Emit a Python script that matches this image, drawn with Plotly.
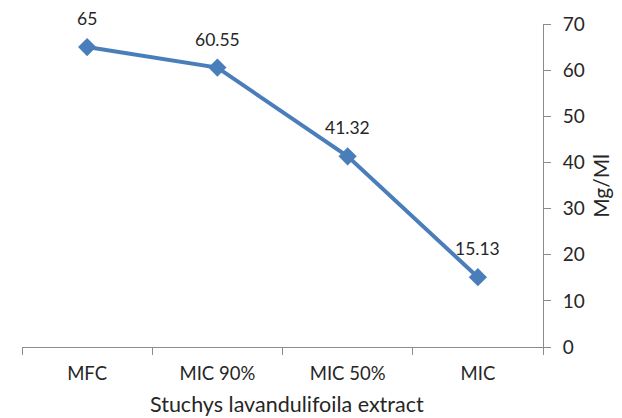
import plotly.graph_objects as go

categories = ["MFC", "MIC 90%", "MIC 50%", "MIC"]
values = [65, 60.55, 41.32, 15.13]
labels = ["65", "60.55", "41.32", "15.13"]
x_title = "Stuchys lavandulifoila extract"
y_title = "Mg/Ml"

font_family = "Lato, 'Open Sans', sans-serif"
text_color = "#262626"
axis_color = "#8c8c8c"
line_color = "#4a7ebb"

fig = go.Figure()
fig.add_trace(go.Scatter(
    x=categories, y=values, mode="lines+markers",
    line=dict(color=line_color, width=4),
    marker=dict(symbol="diamond", size=14, color=line_color),
    showlegend=False, hoverinfo="skip",
))
for c, v, t in zip(categories, values, labels):
    fig.add_annotation(x=c, y=v, text=t, showarrow=False, xref="x", yref="y",
                       yanchor="bottom", yshift=16,
                       font=dict(family=font_family, size=17.5, color=text_color))

fig.add_annotation(text=x_title, xref="paper", yref="paper", x=0.508, y=-0.176,
                   xanchor="center", yanchor="middle", showarrow=False,
                   borderpad=0,
                   font=dict(family=font_family, size=21.5, color=text_color))
fig.add_annotation(text=y_title, xref="paper", yref="paper", x=1.11, y=0.5,
                   xanchor="center", yanchor="middle", showarrow=False, textangle=-90,
                   font=dict(family=font_family, size=21, color=text_color))

fig.update_layout(
    width=614, height=410,
    margin=dict(l=14, r=79, t=16, b=71, autoexpand=False),
    paper_bgcolor="white", plot_bgcolor="white",
    font=dict(family=font_family, color=text_color),
)
fig.update_xaxes(
    type="category", range=[-0.5, 3.5], automargin=False,
    showline=True, linecolor=axis_color, linewidth=1,
    ticks="outside", tickson="boundaries", ticklen=7, tickcolor=axis_color,
    ticklabelstandoff=10,
    showgrid=False, zeroline=False,
    tickfont=dict(family=font_family, size=18.5, color=text_color),
)
fig.update_yaxes(
    side="right", range=[0, 70], dtick=10, automargin=False,
    showline=True, linecolor=axis_color, linewidth=1,
    ticks="outside", ticklen=7, tickcolor=axis_color,
    ticklabelstandoff=8,
    showgrid=False, zeroline=False,
    tickfont=dict(family=font_family, size=19, color=text_color),
)

fig.write_html("out.html")
